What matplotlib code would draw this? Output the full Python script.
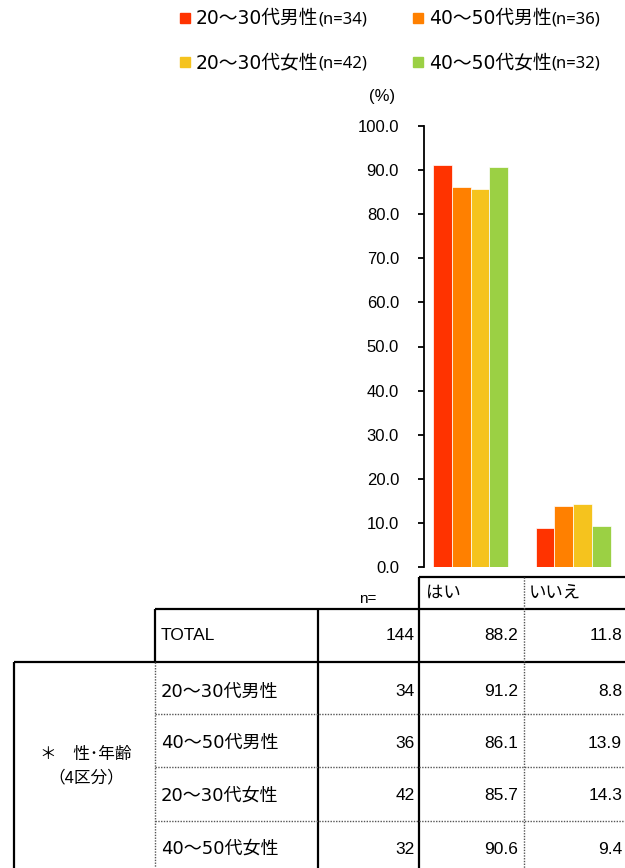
import matplotlib
matplotlib.use('Agg')
import matplotlib.pyplot as plt
from matplotlib.patches import Rectangle

plt.rcParams['font.family'] = ['Liberation Sans', 'Noto Sans CJK JP', 'DejaVu Sans']
JP = ['DejaVu Sans', 'Noto Sans CJK JP']

# data
groups = ['20～30代男性', '40～50代男性', '20～30代女性', '40～50代女性']
group_n = [34, 36, 42, 32]
colors = ['#ff3300', '#ff8000', '#f5c31e', '#9bd044']
answers = ['はい', 'いいえ']
total_n = 144
total_pct = [88.2, 11.8]
yes_pct = [91.2, 86.1, 85.7, 90.6]
no_pct = [8.8, 13.9, 14.3, 9.4]
yticks = [0, 10, 20, 30, 40, 50, 60, 70, 80, 90, 100]
side_label = '＊　性･年齢\n（4区分）'

W, H = 625, 868
fig = plt.figure(figsize=(W / 100, H / 100), dpi=100)

# overlay in pixel coordinates for legend and table
ov = fig.add_axes([0, 0, 1, 1])
ov.set_xlim(0, W)
ov.set_ylim(H, 0)
ov.axis('off')

# bar chart
ax = fig.add_axes([424 / W, 1 - 567 / H, 201 / W, (567 - 126) / H])
bw = 0.183
for i, g in enumerate(groups):
    vals = [yes_pct[i], no_pct[i]]
    xs = [c + (i - 1.5) * bw for c in range(len(answers))]
    ax.bar(xs, vals, width=bw, color=colors[i], edgecolor='white', linewidth=0.5)
ax.set_xlim(-0.454, 1.507)
ax.set_ylim(0, 100)
ax.set_yticks(yticks)
ax.set_yticklabels([f'{v:.1f}' for v in yticks], fontsize=12)
ax.tick_params(axis='y', direction='out', length=4, width=1.3, pad=14)
ax.set_xticks([])
for s in ['top', 'right', 'bottom']:
    ax.spines[s].set_visible(False)
ax.spines['left'].set_linewidth(1.3)
ax.patch.set_alpha(0)
ov.text(382, 97, '(%)', fontsize=12, ha='center', va='center')

# legend
leg_pos = [(180, 18), (413, 18), (180, 62), (413, 62)]
for (x, y), g, n, c in zip(leg_pos, groups, group_n, colors):
    ov.add_patch(Rectangle((x, y - 5), 10, 10, color=c))
    t = ov.text(x + 16, y + 6, g, fontsize=13.5, ha='left', va='baseline', family=JP)
    ov.annotate(f'(n={n})', xy=(1, y + 6), xycoords=(t, 'data'), ha='left',
                va='baseline', fontsize=12, family=['Noto Sans'])

# table lines
thick = dict(color='black', lw=1.6, solid_capstyle='butt')
dot = dict(color='#555555', lw=1.0, linestyle=(0, (1, 1)))
ov.plot([419, 625], [577, 577], **thick)
ov.plot([155, 625], [609, 609], **thick)
ov.plot([14, 625], [662, 662], **thick)
ov.plot([419, 419], [577, H], **thick)
ov.plot([318, 318], [609, H], **thick)
ov.plot([155, 155], [609, 662], **thick)
ov.plot([14, 14], [662, H], **thick)
ov.plot([524, 524], [577, H], **dot)
ov.plot([155, 155], [662, H], **dot)
for y in [714, 767, 821]:
    ov.plot([155, 625], [y, y], **dot)

# table header
ov.text(368, 599, 'n=', fontsize=11, ha='center', va='center')
ov.text(426, 593, answers[0], fontsize=12.5, ha='left', va='center')
ov.text(529, 593, answers[1], fontsize=12.5, ha='left', va='center')

# table rows
row_y = [635, 692, 743, 796, 849]
labels = ['TOTAL'] + groups
ns = [total_n] + group_n
yes_col = [total_pct[0]] + yes_pct
no_col = [total_pct[1]] + no_pct
for k, (y, lab, n, a, b) in enumerate(zip(row_y, labels, ns, yes_col, no_col)):
    if k == 0:
        ov.text(161, y, lab, fontsize=12.5, ha='left', va='center')
    else:
        ov.text(161, y, lab, fontsize=13, ha='left', va='center', family=JP)
    ov.text(415, y, str(n), fontsize=12.5, ha='right', va='center')
    ov.text(518, y, f'{a:.1f}', fontsize=12.5, ha='right', va='center')
    ov.text(622, y, f'{b:.1f}', fontsize=12.5, ha='right', va='center')
ov.text(86, 766, side_label, fontsize=12, ha='center', va='center', linespacing=1.5,
        family=['Noto Sans CJK JP'])

fig.savefig('out.png', dpi=100)
